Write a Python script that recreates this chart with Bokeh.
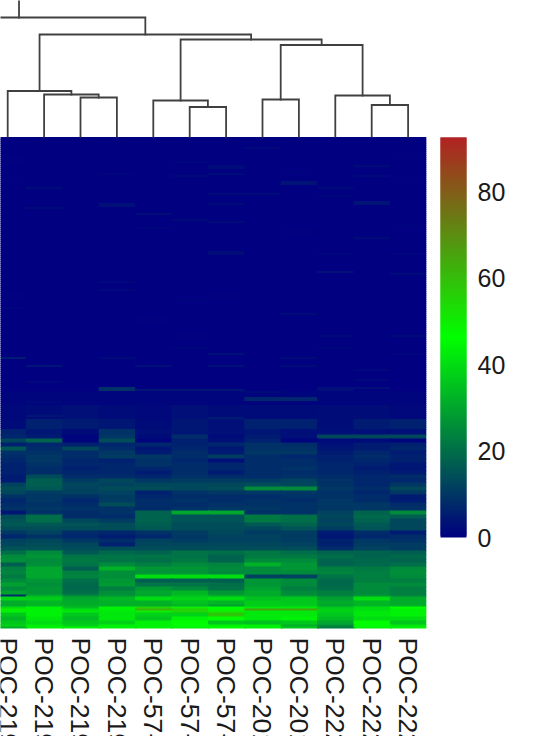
from bokeh.embed import file_html
from bokeh.resources import INLINE
from bokeh.plotting import figure
from bokeh.models import ColumnDataSource, Range1d, LinearColorMapper
from bokeh.core.properties import value
from bokeh.transform import transform

sample_labels = ["POC-219", "POC-219", "POC-219", "POC-219", "POC-57-", "POC-57-",
                 "POC-57-", "POC-201", "POC-201", "POC-222", "POC-222", "POC-222"]
colorbar_ticks = [0, 20, 40, 60, 80]
colorbar_max = 92.5

# dendrogram: (left, right, merge height); ints are leaves, strings name earlier merges
offscreen_leaf = -3.16
merges = {
    "a": (2, 3, 39), "b": (1, "a", 42), "c": (0, "b", 45.5),
    "d": (5, 6, 29.5), "e": (4, "d", 36),
    "f": (7, 8, 37),
    "g": (10, 11, 31.5), "h": (9, "g", 41),
    "i": ("f", "h", 91.5), "j": ("e", "i", 97), "k": ("c", "j", 102),
    "l": (offscreen_leaf, "k", 119),
}
root_top = 150

# upper (nearly zero) part of the heat map: sparse cells (row, column, value)
upper_rows = 146
upper_cells = [
    (25,1,2),(35,1,2),(11,0,1),(21,0,.7),(18,3,1),(33,3,3),(34,3,3),(72,3,1.5),
    (38,4,2.5),(45,4,1),(12,5,1),(19,5,1.5),(41,5,2),(14,6,2),(15,6,2),(18,6,2),
    (28,6,2),(33,6,2),(42,6,2),(57,6,2.5),(58,6,2.5),(5,7,1.5),(28,7,2),(22,8,3.5),
    (23,8,3.5),(17,8,.7),(47,8,1),(25,9,2),(29,9,1),(58,9,1),(67,9,3),(14,10,2),
    (19,10,1.5),(32,10,3.5),(33,10,3.5),(50,10,2),(7,11,.7),(10,11,.7),(21,11,.5),
    (44,11,.7),(68,11,2),(58,11,1),(79,0,1),(85,0,1),(110,0,5),(114,1,3.5),(122,1,1.5),
    (132,1,2),(139,1,4),(76,3,1.5),(110,3,2),(125,3,9),(126,3,9),(91,4,1),(114,4,3),
    (126,4,4),(126,5,4),(81,5,.7),(99,5,1),(105,5,1),(108,6,3),(114,6,3),(126,6,4),
    (140,6,5),(79,6,1),(127,7,2),(130,7,7),(131,7,7),(88,8,2),(110,8,2),(114,8,2),
    (130,8,7),(131,8,7),(99,9,1.5),(105,9,1),(125,9,3),(126,9,3),(116,10,1.5),(121,10,1.5),
    (125,10,3),(99,11,2),(108,11,1),
]
# faint rising background just above the lower bands: (first row, last row, values)
upper_base = [
    (127, 133, [1, 1, 1, 1, 1, 1, 1, 1, 1, 1, 1, 1]),
    (134, 140, [1.5, 2, 3, 2, 1.5, 3, 2, 2, 2, 2.5, 2.5, 1.5]),
    (141, 145, [2, 6, 5, 4, 2, 4, 3, 6, 6, 2.5, 5, 6]),
]

# lower part of the heat map: rows per band and the values per column
lower_spans = [2.75] + [2] * 40 + [1, 2, 2, 1, 1, 1, 1, 2, 2, 2, 1, 1]
lower_values = [
    [6,4,2,9,3,4,3,4,3,3,3,3],
    [7,5,1,10,2,8,2,5,3,13,13,13],
    [13,18,1,14,1,6,3,6,1,2,2,1],
    [6,7,6,7,7,6,7,9,8,3,5,6],
    [16,8,13,8,4,7,4,9,9,4,5,7],
    [9,9,8,10,5,8,5,10,10,5,7,5],
    [8,10,8,11,10,8,11,8,7,6,8,6],
    [7,10,7,6,9,7,3,8,8,6,7,6],
    [6,9,7,7,9,8,7,8,8,7,6,4],
    [6,8,6,7,7,8,7,8,9,7,5,4],
    [6,8,7,7,5,8,5,8,8,7,6,5],
    [5,14,8,8,7,9,8,8,9,8,7,8],
    [5,17,11,13,10,11,11,11,12,9,7,7],
    [12,17,13,12,13,13,13,14,13,9,7,10],
    [14,16,12,14,14,13,14,25,25,10,8,13],
    [13,11,12,12,6,9,10,10,10,9,7,10],
    [9,10,9,11,7,8,8,8,9,9,8,5],
    [7,10,7,11,8,9,8,9,8,10,8,5],
    [8,9,8,14,8,8,9,9,9,10,10,8],
    [9,10,9,9,8,9,10,10,9,10,10,9],
    [4,9,8,9,18,30,30,9,9,12,18,25],
    [14,20,8,8,18,15,15,22,20,13,19,17],
    [15,20,13,11,18,15,15,22,20,12,18,13],
    [16,16,15,14,17,14,14,16,18,13,16,13],
    [14,14,14,14,16,14,14,13,15,11,15,13],
    [10,12,8,7,9,11,13,11,11,5,8,5],
    [7,9,7,5,7,10,12,12,11,4,7,8],
    [12,13,10,8,12,11,12,12,11,6,10,9],
    [13,14,13,6,13,13,13,13,12,6,11,11],
    [15,15,14,14,14,14,14,14,14,8,12,11],
    [20,25,16,19,18,21,20,22,20,18,18,17],
    [25,27,21,21,21,21,18,22,22,20,18,19],
    [26,25,22,21,20,22,18,25,25,18,19,18],
    [17,26,21,25,23,25,24,32,27,18,19,20],
    [23,30,17,32,27,27,25,25,27,23,22,25],
    [24,30,23,26,27,27,25,25,25,24,23,26],
    [22,30,24,26,40,40,40,12,12,21,23,25],
    [25,27,20,27,17,17,17,27,25,19,23,23],
    [29,26,19,28,21,21,20,27,25,19,25,25],
    [25,27,19,23,28,25,21,29,23,20,25,23],
    [29,27,20,26,30,33,27,31,25,23,25,23],
    [8,31,25,27,30,35,31,31,27,24,27,24],
    [38,37,30,33,40,38,40,35,36,29,40,31],
    [31,33,31,32,32,35,33,37,36,31,33,31],
    [31,33,32,32,32,33,29,37,37,30,33,32],
    [40,44,34,44,55,50,46,42,42,36,40,46],
    [50,44,40,44,62,56,48,66,66,38,40,44],
    [44,44,42,42,50,55,50,42,42,38,42,44],
    [36,44,36,42,38,38,58,42,42,36,42,44],
    [33,42,34,42,36,44,46,42,44,34,40,40],
    [36,40,36,38,44,46,36,35,36,30,46,36],
    [38,43,38,44,44,46,44,44,32,26,46,42],
    [32,44,44,44,44,44,46,44,36,22,44,44],
]

# colour ramp: navy -> green -> firebrick
stops = [(0, 0, 128), (0, 255, 0), (178, 34, 34)]
palette = []
for k in range(512):
    t = k / 511 * 2
    i = min(int(t), 1)
    f = t - i
    palette.append("#%02x%02x%02x" % tuple(
        round(stops[i][c] + (stops[i + 1][c] - stops[i][c]) * f) for c in range(3)))
mapper = LinearColorMapper(palette=palette, low=0, high=colorbar_max)

PAGE_W, PAGE_H = 536, 736
ROW_PX, HEAT_TOP = 2.0, 136.5
COL_PX, COL0 = 36.4, 7.2
ZERO_PX, VALUE_PX = 537.0, 4.325
DENDRO_BASE = 136.0

p = figure(width=PAGE_W, height=PAGE_H, output_backend="svg", toolbar_location=None,
           x_axis_location=None, y_axis_location=None, min_border=0,
           x_range=Range1d((0 - COL0) / COL_PX, (PAGE_W - COL0) / COL_PX),
           y_range=Range1d((PAGE_H - HEAT_TOP) / ROW_PX, (0 - HEAT_TOP) / ROW_PX))
p.grid.visible = False
p.outline_line_color = None
p.background_fill_color = "white"
p.border_fill_color = "white"
p.extra_x_ranges = {"page": Range1d(0, PAGE_W)}
p.extra_y_ranges = {
    "value": Range1d((ZERO_PX - PAGE_H) / VALUE_PX, ZERO_PX / VALUE_PX),
    "height": Range1d(DENDRO_BASE - PAGE_H, DENDRO_BASE),
}

# heat map
n_cols = len(sample_labels)
upper = [[0.0] * n_cols for _ in range(upper_rows)]
for first, last, vals in upper_base:
    for r in range(first, last + 1):
        upper[r] = list(vals)
for r, c, v in upper_cells:
    upper[r][c] = max(upper[r][c], v)

spans = [1] * upper_rows + lower_spans
matrix = upper + lower_values
left, right, top, bottom, val = [], [], [], [], []
row = 0.0
for ri, (span, vals) in enumerate(zip(spans, matrix)):
    under = 0.0 if ri == len(spans) - 1 else 0.4   # slight overlap hides hairline seams
    for c, v in enumerate(vals):
        left.append(c - 0.5)
        right.append(c + 0.5 + (0.0 if c == n_cols - 1 else 0.05))
        top.append(row)
        bottom.append(row + span + under)
        val.append(v)
    row += span
p.quad(left="l", right="r", top="t", bottom="b",
       source=ColumnDataSource(dict(l=left, r=right, t=top, b=bottom, v=val)),
       fill_color=transform("v", mapper), line_color=None)

# dendrogram
pos = {}
hgt = {}
def locate(n):
    if isinstance(n, str):
        return pos[n], hgt[n]
    return n, 0
xs, ys = [], []
for name, (a, b, h) in merges.items():
    xa, ha = locate(a)
    xb, hb = locate(b)
    xs.append([xa, xa, xb, xb])
    ys.append([ha, h, h, hb])
    pos[name] = (xa + xb) / 2
    hgt[name] = h
xs.append([pos["l"], pos["l"]])
ys.append([hgt["l"], root_top])
p.multi_line(xs, ys, y_range_name="height", line_color="#404040", line_width=1.8,
             line_join="miter", line_cap="square")

# sample labels
p.text(x=list(range(n_cols)), y=[(637 - HEAT_TOP) / ROW_PX] * n_cols, text=sample_labels,
       text_font=value("Liberation Sans"), text_font_size="26.5px", text_color="#1a1a1a",
       text_align="left", text_baseline="middle", angle=-1.5708)

# colour bar
levels = [colorbar_max * i / 200 for i in range(200)]
step = colorbar_max / 200
p.quad(left=440, right=466, bottom="b", top="t", x_range_name="page", y_range_name="value",
       source=ColumnDataSource(dict(b=levels, t=[min(l + 2 * step, colorbar_max) for l in levels],
                                    v=[l + step / 2 for l in levels])),
       fill_color=transform("v", mapper), line_color=None)
p.text(x=[477] * len(colorbar_ticks), y=colorbar_ticks, text=[str(t) for t in colorbar_ticks],
       x_range_name="page", y_range_name="value",
       text_font=value("Liberation Sans"), text_font_size="25px", text_color="#1a1a1a",
       text_align="left", text_baseline="middle")

open("out.html", "w").write(file_html(p, INLINE))
